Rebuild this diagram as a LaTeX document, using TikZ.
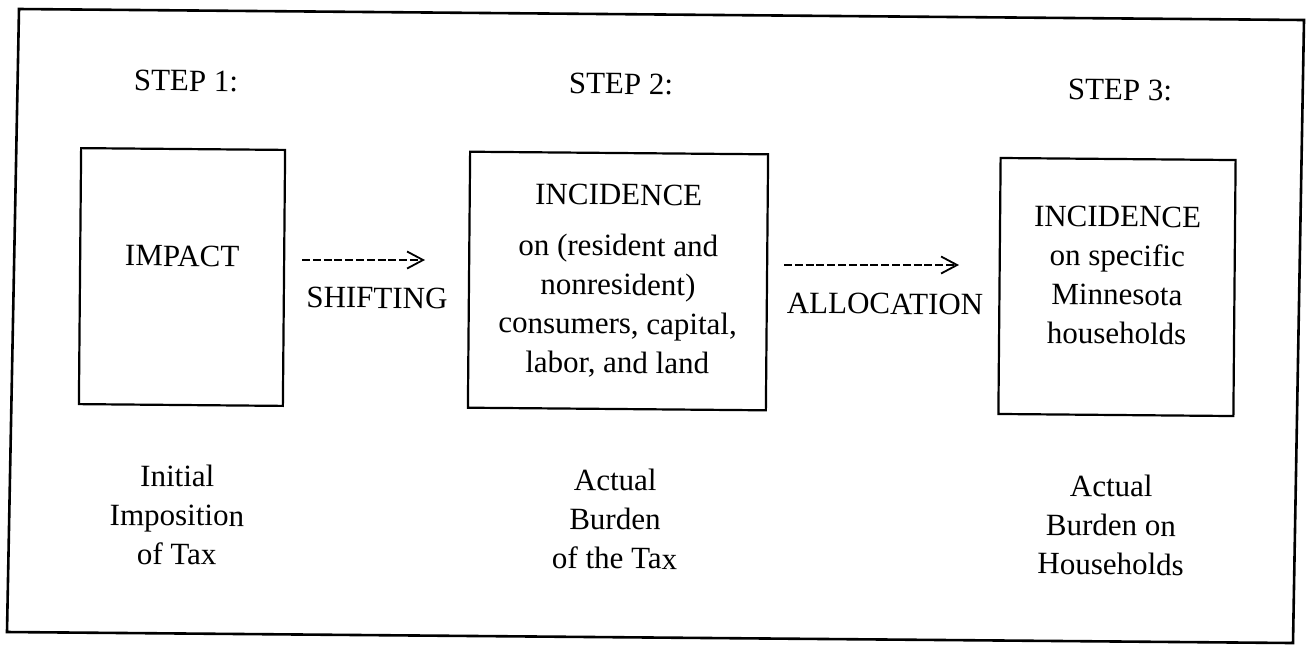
\documentclass[tikz,border=0pt]{standalone}
\usepackage{fontspec}
\setmainfont{Liberation Serif}
\usetikzlibrary{arrows.meta}

\begin{document}
\begin{tikzpicture}[x=0.5pt, y=-0.5pt,
    every node/.style={font=\fontsize{15.5}{19.5}\selectfont, align=center, rotate=-0.5, inner sep=0pt},
    stepbox/.style={draw, line width=1.1pt, minimum height=128pt},
    dasharrow/.style={line width=1pt, dash pattern=on 4pt off 1.4pt,
        -{Straight Barb[length=8pt,width=8.5pt,line width=0.9pt]}}]
    \useasboundingbox (0,0) rectangle (1306,645);
    % outer frame
    \draw[line width=1.3pt] (19,9) -- (1304,20) -- (1293,643) -- (7,632) -- cycle;
    % step titles
    \node (step1) at (186,81) {STEP 1:};
    \node (step2) at (621,84) {STEP 2:};
    \node (step3) at (1120,90) {STEP 3:};
    % boxes
    \node[stepbox, minimum width=102pt, text depth=21pt] (impact) at (182,277) {IMPACT};
    \node[stepbox, minimum width=149pt] (incidence) at (618,281)
        {INCIDENCE\\[6pt] on (resident and\\ nonresident)\\ consumers, capital,\\ labor, and land};
    \node[stepbox, minimum width=117.5pt, text depth=12pt] (households) at (1117,287)
        {INCIDENCE\\ on specific\\ Minnesota\\ households};
    % captions
    \node (initial) at (177,515) {Initial\\ Imposition\\ of Tax};
    \node (actual) at (615,519) {Actual\\ Burden\\ of the Tax};
    \node (onhouse) at (1111,525) {Actual\\ Burden on\\ Households};
    % arrows
    \node (shifting) at (377,298) {SHIFTING};
    \node (allocation) at (885,304) {ALLOCATION};
    \coordinate (shiftA) at (302,260);
    \coordinate (shiftB) at (425,260);
    \coordinate (allocA) at (784,265);
    \coordinate (allocB) at (959,265);
    \draw[dasharrow] (shiftA) -- (shiftB);
    \draw[dasharrow] (allocA) -- (allocB);
\end{tikzpicture}
\end{document}
